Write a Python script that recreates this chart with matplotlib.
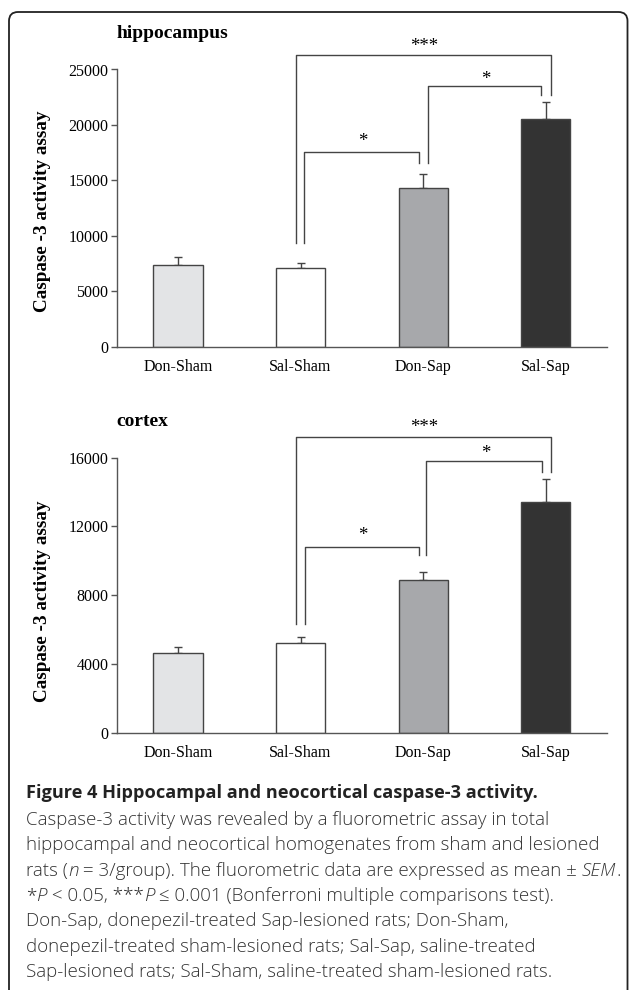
import matplotlib.pyplot as plt
from matplotlib.patches import FancyBboxPatch

groups = ["Don-Sham", "Sal-Sham", "Don-Sap", "Sal-Sap"]
colors = ["#e3e4e6", "#ffffff", "#a7a8ab", "#333333"]

hip_mean = [7350, 7150, 14300, 20550]
hip_sem = [750, 450, 1300, 1550]
ctx_mean = [4620, 5200, 8880, 13420]
ctx_sem = [350, 350, 450, 1320]

# brackets: x_left, x_right, y_top, y_left_end, y_right_end
hip_brackets = [(0.96, 3.04, 26320, 9380, 22660),
                (1.03, 1.97, 17560, 9380, 16580),
                (2.04, 2.96, 23470, 16580, 22660)]
hip_stars = [(2.01, 26700, "***"), (1.51, 18100, "*"), (2.51, 23700, "*")]

ctx_brackets = [(0.96, 3.04, 17185, 6305, 15185),
                (1.04, 1.97, 10785, 6305, 10340),
                (2.02, 2.97, 15810, 10340, 15185)]
ctx_stars = [(2.01, 17500, "***"), (1.51, 11230, "*"), (2.51, 15980, "*")]

serif = "Liberation Serif"
line_c = "#444444"

fig = plt.figure(figsize=(6.29, 9.9), dpi=100)

# rounded frame around the figure
frame = FancyBboxPatch((0.09, -0.2), 6.185, 9.98, boxstyle="round,pad=0,rounding_size=0.09",
                       transform=fig.dpi_scale_trans, fill=False, ec="#222222", lw=1.3)
fig.patches.append(frame)


def panel(ax, means, sems, ymax, step, brackets, stars):
    x = range(len(groups))
    ax.bar(x, means, width=0.4, color=colors, edgecolor=line_c, linewidth=1.0, zorder=2)
    ax.errorbar(x, means, yerr=[[0] * len(sems), sems], fmt="none", ecolor=line_c,
                elinewidth=1.0, capsize=3, capthick=1.0, zorder=1)
    ax.set_xlim(-0.5, 3.5)
    ax.set_ylim(0, ymax)
    ax.set_yticks(range(0, ymax + 1, step))
    ax.set_xticks(list(x))
    ax.set_xticklabels(groups, fontsize=11.5, fontfamily=serif)
    for lab in ax.get_yticklabels():
        lab.set_fontfamily(serif)
        lab.set_fontsize(11.5)
    ax.tick_params(axis="x", length=0, pad=9)
    ax.tick_params(axis="y", length=4, width=1, color="#555555", pad=2)
    for s in ["top", "right"]:
        ax.spines[s].set_visible(False)
    for s in ["left", "bottom"]:
        ax.spines[s].set_color("#555555")
        ax.spines[s].set_linewidth(1.0)
    for x1, x2, yt, yl, yr in brackets:
        ax.plot([x1, x1, x2, x2], [yl, yt, yt, yr], color=line_c, lw=1.0, clip_on=False)
    for sx, sy, st in stars:
        ax.text(sx, sy, st, ha="center", va="baseline", fontsize=13.5, fontfamily=serif,
                clip_on=False)


ax1 = fig.add_axes([116.7 / 629, 1 - 347 / 990, 490.3 / 629, 277.5 / 990])
panel(ax1, hip_mean, hip_sem, 25000, 5000, hip_brackets, hip_stars)
ax2 = fig.add_axes([116.7 / 629, 1 - 732.7 / 990, 490.3 / 629, 275 / 990])
panel(ax2, ctx_mean, ctx_sem, 16000, 4000, ctx_brackets, ctx_stars)

fig.text(116.7 / 629, 1 - 34 / 990, "hippocampus", fontfamily=serif, fontweight="bold",
         fontsize=14, ha="left", va="center")
fig.text(116.7 / 629, 1 - 421.7 / 990, "cortex", fontfamily=serif, fontweight="bold",
         fontsize=14, ha="left", va="center")
fig.text(43 / 629, 1 - 211 / 990, "Caspase -3 activity assay", fontfamily=serif,
         fontweight="bold", fontsize=13.8, rotation=90, ha="center", va="center")
fig.text(43 / 629, 1 - 601 / 990, "Caspase -3 activity assay", fontfamily=serif,
         fontweight="bold", fontsize=13.8, rotation=90, ha="center", va="center")

# caption
fig.text(26 / 629, 1 - 793 / 990, "Figure 4 Hippocampal and neocortical caspase-3 activity.",
         fontfamily="Open Sans", fontweight="bold", fontsize=13.1, ha="left", va="center",
         color="#222222")
# each line is a list of (text, italic) pieces
caption = [
    [("Caspase-3 activity was revealed by a fluorometric assay in total", False)],
    [("hippocampal and neocortical homogenates from sham and lesioned", False)],
    [("rats (", False), ("n", True), (" = 3/group). The fluorometric data are expressed as mean ± ", False),
     ("SEM", True), (".", False)],
    [("*", False), ("P", True), (" < 0.05, ***", False), ("P", True),
     (" ≤ 0.001 (Bonferroni multiple comparisons test).", False)],
    [("Don-Sap, donepezil-treated Sap-lesioned rats; Don-Sham,", False)],
    [("donepezil-treated sham-lesioned rats; Sal-Sap, saline-treated", False)],
    [("Sap-lesioned rats; Sal-Sham, saline-treated sham-lesioned rats.", False)],
]
renderer = fig.canvas.get_renderer()
for i, parts in enumerate(caption):
    xpx = 26
    for txt, ital in parts:
        t = fig.text(xpx / 629, 1 - (820 + 25.3 * i) / 990, txt, fontfamily="Open Sans",
                     fontweight="light", fontsize=13.5, style="italic" if ital else "normal",
                     ha="left", va="center", color="#333333")
        xpx = t.get_window_extent(renderer).x1

fig.savefig("out.png", dpi=100)
